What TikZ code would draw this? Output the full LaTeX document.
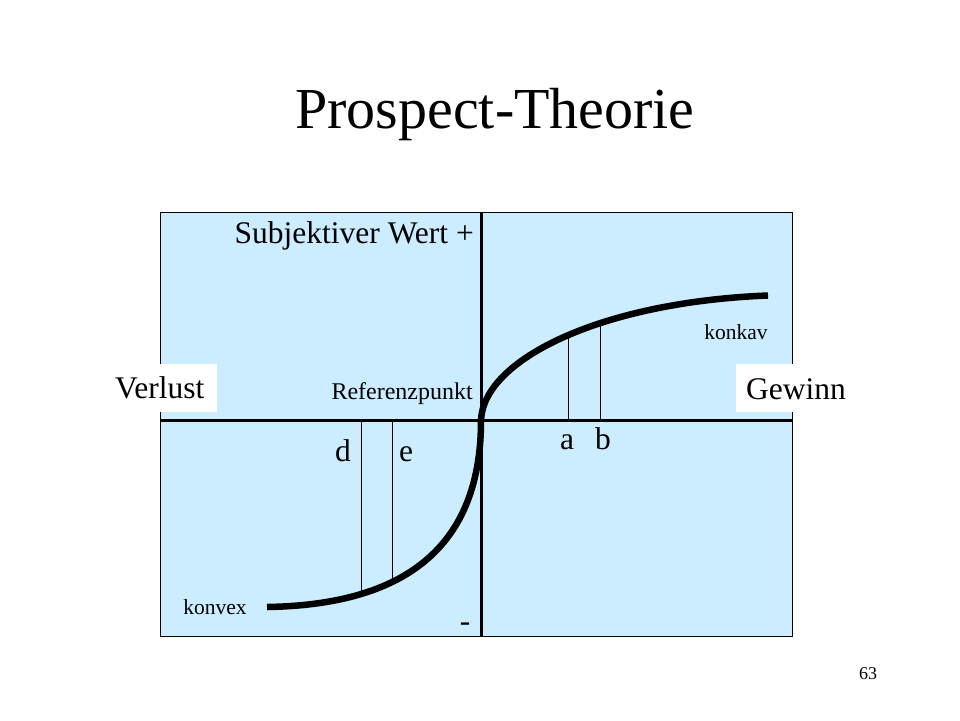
\documentclass[tikz,border=0pt]{standalone}
\usepackage{fontspec}
\setmainfont{Liberation Serif}
\definecolor{panelblue}{HTML}{CCECFF}
\tikzset{
  lbl/.style={inner sep=0pt, font=\fontsize{31.5}{36}\selectfont},
  small/.style={inner sep=0pt, font=\fontsize{21.5}{25}\selectfont},
  whitebox/.style={fill=white, draw=none},
  axis/.style={line width=3pt},
  curve/.style={line width=6.5pt, line cap=butt},
  thin/.style={line width=1pt},
}
\begin{document}
\begin{tikzpicture}[x=1pt,y=-1pt]
\useasboundingbox (0,0) rectangle (960,720);
% title
\node[inner sep=0pt, anchor=base, font=\fontsize{58}{66}\selectfont] (title) at (495,128) {Prospect-Theorie};
% panel
\node[draw=black, line width=1pt, fill=panelblue, minimum width=632pt, minimum height=424pt, inner sep=0pt, anchor=north west] (panel) at (160,212) {};
% white label boxes
\node[whitebox, anchor=north west, minimum width=117pt, minimum height=48pt, inner sep=0pt] (vbox) at (100,364) {};
\node[whitebox, anchor=north west, minimum width=119pt, minimum height=48pt, inner sep=0pt] (gbox) at (736,364) {};
% axes
\coordinate (ytop) at (481,212);
\coordinate (ybot) at (481,636);
\coordinate (xl) at (160,420.5);
\coordinate (xr) at (792,420.5);
\coordinate (o) at (481,420.5);
\draw[axis] (ytop) -- (ybot);
\draw[axis] (xl) -- (xr);
% thin verticals
\coordinate (a0) at (568,420); \coordinate (a1) at (568,336);
\coordinate (b0) at (600,420); \coordinate (b1) at (600,324);
\coordinate (d0) at (361,420); \coordinate (d1) at (361,591);
\coordinate (e0) at (392.5,420); \coordinate (e1) at (392.5,579);
\draw[thin] (a0) -- (a1);
\draw[thin] (b0) -- (b1);
\draw[thin] (d0) -- (d1);
\draw[thin] (e0) -- (e1);
% curve
\coordinate (uend) at (768,295.5);
\coordinate (lend) at (267,607);
\draw[curve] (uend) .. controls (600,302) and (483,360) .. (o)
  .. controls (481,555) and (395,605) .. (lend);
% labels
\node[lbl, anchor=base east] (subj) at (474,243) {Subjektiver Wert +};
\node[small, anchor=base east, font=\fontsize{24}{28}\selectfont] (ref) at (473,399) {Referenzpunkt};
\node[lbl, anchor=base west] (verlust) at (115,398) {Verlust};
\node[lbl, anchor=base west] (gewinn) at (746,399) {Gewinn};
\node[small, anchor=base] (konkav) at (736,339) {konkav};
\node[small, anchor=base] (konvex) at (215,614) {konvex};
\node[lbl, anchor=base] (la) at (567,449) {a};
\node[lbl, anchor=base] (lb) at (603,449) {b};
\node[lbl, anchor=base] (ld) at (343,461) {d};
\node[lbl, anchor=base] (le) at (406,461) {e};
\node[lbl, anchor=base] (minus) at (465,631) {-};
\node[inner sep=0pt, anchor=base, font=\fontsize{18}{22}\selectfont] (page) at (868,679) {63};
\end{tikzpicture}
\end{document}
